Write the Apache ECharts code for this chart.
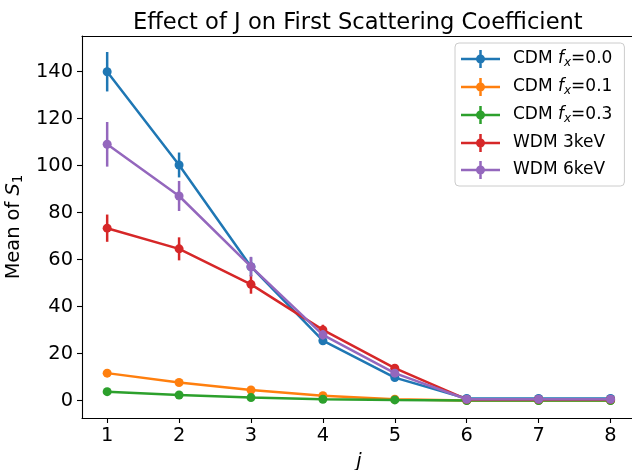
<!DOCTYPE html>
<html>
<head>
<meta charset="utf-8">
<script src="https://cdn.jsdelivr.net/npm/echarts@6/dist/echarts.min.js"></script>
<style>html,body{margin:0;padding:0;background:#fff}#c{width:632px;height:470px}</style>
</head>
<body>
<div id="c"></div>
<script>
const jValues = [1, 2, 3, 4, 5, 6, 7, 8];
const xTicks = [1, 2, 3, 4, 5, 6, 7, 8];
const yTicks = [0, 20, 40, 60, 80, 100, 120, 140];
const seriesNames = ['CDM fx=0.0', 'CDM fx=0.1', 'CDM fx=0.3', 'WDM 3keV', 'WDM 6keV'];
const colors = ['#1f77b4', '#ff7f0e', '#2ca02c', '#d62728', '#9467bd'];

const cdm00 = [140.0, 100.3, 57.0, 25.5, 9.8, 0.9, 0.9, 0.9];
const cdm01 = [11.7, 7.7, 4.5, 2.1, 0.6, 0.1, 0.1, 0.1];
const cdm03 = [3.8, 2.4, 1.3, 0.6, 0.3, 0.05, 0.05, 0.05];
const wdm3 = [73.4, 64.6, 49.5, 30.1, 13.8, 0.5, 0.5, 0.5];
const wdm6 = [109.1, 87.1, 57.0, 28.0, 11.7, 0.6, 0.6, 0.6];

const cdm00Err = [8.4, 5.3, 4.0, 1.8, 0.8, 0.1, 0.1, 0.1];
const cdm01Err = [0.9, 0.6, 0.4, 0.2, 0.1, 0.02, 0.02, 0.02];
const cdm03Err = [0.4, 0.3, 0.2, 0.1, 0.05, 0.01, 0.01, 0.01];
const wdm3Err = [5.8, 4.9, 4.0, 2.2, 1.0, 0.1, 0.1, 0.1];
const wdm6Err = [9.5, 6.4, 4.2, 2.0, 0.9, 0.1, 0.1, 0.1];

const allVals = [cdm00, cdm01, cdm03, wdm3, wdm6];
const allErrs = [cdm00Err, cdm01Err, cdm03Err, wdm3Err, wdm6Err];

const FONT = 'DejaVu Sans';
const legendIcon = 'path://M0,7.75h39v2.5h-39z M18.25,0h2.5v18h-2.5z M19.5,4.5a4.5,4.5 0 1,1 0,9a4.5,4.5 0 1,1 0,-9z';

const series = [];
allVals.forEach((vals, i) => {
  const errs = allErrs[i];
  series.push({
    name: 'err' + i,
    type: 'custom',
    z: 2 + i * 2,
    silent: true,
    data: jValues.map((x, k) => [x, vals[k], errs[k]]),
    renderItem: function (params, api) {
      const x = api.value(0), y = api.value(1), e = api.value(2);
      const p1 = api.coord([x, y - e]);
      const p2 = api.coord([x, y + e]);
      return {
        type: 'line',
        shape: { x1: p1[0], y1: p1[1], x2: p2[0], y2: p2[1] },
        style: { stroke: colors[i], lineWidth: 2.5 }
      };
    }
  });
  series.push({
    name: seriesNames[i],
    type: 'line',
    z: 3 + i * 2,
    data: jValues.map((x, k) => [x, vals[k]]),
    symbol: 'circle',
    symbolSize: 9,
    showSymbol: true,
    lineStyle: { color: colors[i], width: 2.5 },
    itemStyle: { color: colors[i] },
    emphasis: { disabled: true }
  });
});

const chart = echarts.init(document.getElementById('c'), null, { renderer: 'canvas' });
const axisCommon = {
  axisLine: { show: true, onZero: false, lineStyle: { color: '#000', width: 1.1 } },
  splitLine: { show: false }
};
chart.setOption({
  animation: false,
  backgroundColor: '#fff',
  title: {
    text: 'Effect of J on First Scattering Coefficient',
    left: 352.8,
    textAlign: 'center',
    top: 7,
    textStyle: { fontFamily: FONT, fontSize: 22.6, fontWeight: 'normal', color: '#000' }
  },
  grid: { left: 82, top: 36, width: 553.7, height: 382, containLabel: false, outerBoundsMode: 'none' },
  legend: {
    data: seriesNames.map(n => ({ name: n, icon: legendIcon })),
    orient: 'vertical',
    left: 455,
    top: 43,
    itemWidth: 39,
    itemHeight: 18,
    itemGap: 9,
    padding: [7, 12, 7, 6],
    backgroundColor: 'rgba(255,255,255,0.8)',
    borderColor: '#cccccc',
    borderWidth: 1,
    borderRadius: 4,
    selectedMode: false,
    formatter: function (name) {
      const m = name.match(/^CDM fx=(.*)$/);
      if (m) return '{n|CDM }{i|f}{s|x}{n|=' + m[1] + '}';
      return '{n|' + name + '}';
    },
    textStyle: {
      fontFamily: FONT, fontSize: 17, color: '#000', padding: [0, 0, 0, 8],
      rich: {
        n: { fontFamily: FONT, fontSize: 17, color: '#000' },
        i: { fontFamily: FONT, fontSize: 17, fontStyle: 'italic', color: '#000' },
        s: { fontFamily: FONT, fontSize: 12, fontStyle: 'italic', color: '#000', padding: [8, 0, 0, 0] }
      }
    }
  },
  xAxis: [
    Object.assign({
      type: 'value', min: 0.65, max: 8.35, position: 'bottom',
      name: 'j', nameLocation: 'middle', nameGap: 34,
      nameTextStyle: { fontFamily: FONT, fontSize: 19.4, fontStyle: 'italic', color: '#000' },
      axisTick: { show: true, length: 5, inside: false, customValues: xTicks, lineStyle: { color: '#000', width: 1.1 } },
      axisLabel: { show: true, margin: 8, customValues: xTicks, fontFamily: FONT, fontSize: 19.4, color: '#000' }
    }, axisCommon),
    Object.assign({
      type: 'value', min: 0.65, max: 8.35, position: 'top',
      axisTick: { show: false }, axisLabel: { show: false }
    }, axisCommon)
  ],
  yAxis: [
    Object.assign({
      type: 'value', min: -7.4, max: 155.2, position: 'left',
      name: '{a|Mean of }{i|S}{s|1}', nameLocation: 'middle', nameGap: 47, nameRotate: 90,
      nameTextStyle: {
        fontFamily: FONT, fontSize: 19.4, color: '#000',
        rich: {
          a: { fontFamily: FONT, fontSize: 19.4, color: '#000' },
          i: { fontFamily: FONT, fontSize: 19.4, fontStyle: 'italic', color: '#000' },
          s: { fontFamily: FONT, fontSize: 13.5, color: '#000', padding: [9, 0, 0, 0] }
        }
      },
      axisTick: { show: true, length: 5, inside: false, customValues: yTicks, lineStyle: { color: '#000', width: 1.1 } },
      axisLabel: { show: true, margin: 9, customValues: yTicks, fontFamily: FONT, fontSize: 19.4, color: '#000' }
    }, axisCommon)
  ],
  series: series
});
</script>
</body>
</html>
